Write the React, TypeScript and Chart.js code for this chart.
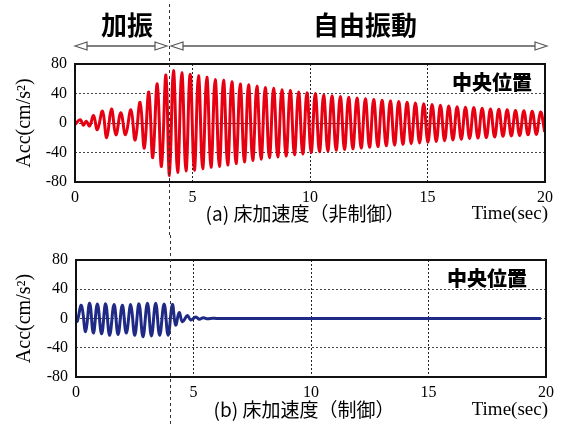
import React, { useEffect, useRef } from "react";
import { Chart, registerables } from "chart.js";

Chart.register(...registerables);

// ---- axis definitions ----
const X_MIN = 0;
const X_MAX = 20;
const X_STEP = 5;
const Y_MIN = -80;
const Y_MAX = 80;
const Y_STEP = 40;
const MARK_TIME = 3.98; // boundary between 加振 and 自由振動 (sec)

// ---- (a) uncontrolled: forced part (peak times / peak values) ----
const uncontrolledForcedTime = [
  0, 0.22, 0.36, 0.48, 0.62, 0.79, 0.95, 1.17, 1.35, 1.55, 1.74, 1.95, 2.15,
  2.38, 2.56, 2.77, 2.95, 3.14, 3.31, 3.5, 3.68, 3.87, 4.02,
];
const uncontrolledForcedAcc = [
  -2, 4.5, -3, 2.5, -4, 10, -9, 16, -20, 19, -16, 14, -16, 18, -23, 28, -34, 42,
  -47, 53, -59, 65, -71,
];
// ---- (a) uncontrolled: free vibration, peaks sampled every half period ----
const uncontrolledFreeStart = 4.19;
const uncontrolledFreeHalfPeriod = 0.1775;
const uncontrolledFreeAcc = [
  71, -67, 68, -65, 66, -64, 64, -62, 62, -60,
  59, -59, 58, -57, 56, -55, 53, -53, 52, -51,
  50, -49, 48, -47, 47, -46, 45, -45, 44, -43,
  42, -42, 41, -40, 40, -39, 38, -38, 37, -37,
  36, -36, 35, -35, 34, -34, 33, -33, 32, -32,
  31, -31, 30, -30, 29, -29, 28, -28, 27, -27,
  26, -26, 25, -25, 24, -24, 23, -23, 22, -22,
  21.5, -21, 21, -20.5, 20, -20, 19, -19, 18.5, -18,
  18, -17.5, 17, -17, 16.5, -16, 16, -15.5, 15, -12,
];

// ---- (b) controlled ----
const controlledTime = [
  0, 0.05, 0.23, 0.41, 0.58, 0.74, 0.91, 1.09, 1.26, 1.43, 1.62, 1.79, 1.97,
  2.14, 2.33, 2.5, 2.68, 2.85, 3.04, 3.21, 3.39, 3.56, 3.75, 3.92, 4.1, 4.24,
  4.39, 4.53, 4.74, 4.88, 5.1, 5.24, 5.42, 5.6, 5.8, 6.0, 19.78,
];
const controlledAcc = [
  -1, -4, 18, -18, 21, -20, 20, -21, 20, -23, 19, -22, 18, -20, 19, -23, 20,
  -25, 21, -24, 21, -23, 20, -23, 19, -9, 8, -4.5, 4, -2, 2, -1, 1, -0.5, 0.5,
  0, 0,
];

// ---- texts ----
const Y_TITLE = "Acc(cm/s²)";
const X_TITLE = "Time(sec)";
const LOCATION_LABEL = "中央位置";
const CAPTION_A = "(a) 床加速度（非制御）";
const CAPTION_B = "(b) 床加速度（制御）";
const PHASE_FORCED = "加振";
const PHASE_FREE = "自由振動";

const RED = "#e60012";
const BLUE = "#1f2a86";
const SERIF = '"Liberation Serif", "Times New Roman", serif';
const CJK = '"Noto Sans CJK JP", "Noto Sans", sans-serif';

const uncontrolledPoints = [
  ...uncontrolledForcedTime.map((t, i) => ({ x: t, y: uncontrolledForcedAcc[i] })),
  ...uncontrolledFreeAcc.map((v, i) => ({
    x: uncontrolledFreeStart + i * uncontrolledFreeHalfPeriod,
    y: v,
  })),
];
const controlledPoints = controlledTime.map((t, i) => ({ x: t, y: controlledAcc[i] }));

type TextItem = { text: string; x: number; y: number; font: string; align?: CanvasTextAlign };
type Arrow = { x1: number; x2: number; y: number };

const framePlugin = {
  id: "frame",
  afterDatasetsDraw(chart: any) {
    const { ctx, chartArea } = chart;
    const { left, top, right, bottom } = chartArea;
    ctx.save();
    ctx.strokeStyle = "#111";
    ctx.lineWidth = 2;
    ctx.strokeRect(left, top, right - left, bottom - top);
    ctx.restore();
  },
};

function drawHead(ctx: CanvasRenderingContext2D, tipX: number, y: number, dir: number) {
  const len = 12;
  const half = 4;
  ctx.beginPath();
  ctx.moveTo(tipX, y);
  ctx.lineTo(tipX - dir * len, y - half);
  ctx.lineTo(tipX - dir * len, y + half);
  ctx.closePath();
  ctx.fillStyle = "#fff";
  ctx.fill();
  ctx.stroke();
}

function makeDecoPlugin(texts: TextItem[], arrows: Arrow[], dashFrom: number, dashTo: number) {
  return {
    id: "deco",
    afterDraw(chart: any) {
      const ctx: CanvasRenderingContext2D = chart.ctx;
      const xs = chart.scales.x;
      ctx.save();
      // boundary dashed line
      const mx = Math.round(xs.getPixelForValue(MARK_TIME)) + 0.5;
      ctx.strokeStyle = "#333";
      ctx.lineWidth = 1;
      ctx.setLineDash([3, 3]);
      ctx.beginPath();
      ctx.moveTo(mx, dashFrom);
      ctx.lineTo(mx, dashTo);
      ctx.stroke();
      ctx.setLineDash([]);
      // arrows
      ctx.strokeStyle = "#555";
      ctx.lineWidth = 1.5;
      arrows.forEach((a) => {
        ctx.beginPath();
        ctx.moveTo(a.x1 + 10, a.y);
        ctx.lineTo(a.x2 - 10, a.y);
        ctx.stroke();
        ctx.lineWidth = 1.2;
        drawHead(ctx, a.x1, a.y, -1);
        drawHead(ctx, a.x2, a.y, 1);
        ctx.lineWidth = 1.5;
      });
      // texts
      ctx.fillStyle = "#000";
      ctx.textBaseline = "middle";
      texts.forEach((t) => {
        ctx.font = t.font;
        ctx.textAlign = t.align || "center";
        ctx.fillText(t.text, t.x, t.y);
      });
      ctx.restore();
    },
  };
}

function makeConfig(
  points: { x: number; y: number }[],
  color: string,
  padTop: number,
  padRight: number,
  yWidth: number,
  xHeight: number,
  deco: any
): any {
  const tickFont = { family: SERIF, size: 16 };
  return {
    type: "line",
    data: {
      datasets: [
        {
          data: points,
          borderColor: color,
          borderWidth: 3,
          pointRadius: 0,
          tension: 0.4,
          fill: false,
        },
      ],
    },
    options: {
      responsive: false,
      animation: false,
      devicePixelRatio: 1,
      events: [],
      layout: { padding: { top: padTop, right: padRight, bottom: 0, left: 0 } },
      plugins: { legend: { display: false }, tooltip: { enabled: false } },
      scales: {
        x: {
          type: "linear",
          min: X_MIN,
          max: X_MAX,
          ticks: {
            stepSize: X_STEP,
            padding: 6,
            color: "#000",
            font: tickFont,
            maxRotation: 0,
            autoSkip: false,
          },
          grid: {
            drawTicks: false,
            lineWidth: 1,
            color: (c: any) =>
              c.tick && (c.tick.value === X_MIN || c.tick.value === X_MAX)
                ? "rgba(0,0,0,0)"
                : "#222",
          },
          border: { display: false, dash: [2, 2] },
          afterFit: (s: any) => {
            s.height = xHeight;
          },
        },
        y: {
          min: Y_MIN,
          max: Y_MAX,
          ticks: { stepSize: Y_STEP, padding: 8, color: "#000", font: tickFont },
          grid: {
            drawTicks: false,
            lineWidth: 1,
            color: (c: any) =>
              c.tick && (c.tick.value === Y_MIN || c.tick.value === Y_MAX)
                ? "rgba(0,0,0,0)"
                : "#444",
          },
          border: { display: false, dash: [2, 2] },
          title: {
            display: true,
            text: Y_TITLE,
            color: "#000",
            font: { family: SERIF, size: 20 },
            padding: { top: 13, bottom: 0 },
          },
          afterFit: (s: any) => {
            s.width = yWidth;
          },
        },
      },
    },
    plugins: [framePlugin, deco],
  };
}

const TOP_H = 235;
const BOT_H = 192;

export default function App() {
  const topRef = useRef<HTMLCanvasElement>(null);
  const botRef = useRef<HTMLCanvasElement>(null);

  useEffect(() => {
    const topDeco = makeDecoPlugin(
      [
        { text: PHASE_FORCED, x: 127, y: 25, font: `bold 26px ${CJK}` },
        { text: PHASE_FREE, x: 365, y: 25, font: `bold 26px ${CJK}` },
        { text: LOCATION_LABEL, x: 492, y: 82, font: `900 20px ${CJK}` },
        { text: CAPTION_A, x: 305, y: 214, font: `19px ${CJK}` },
        { text: X_TITLE, x: 548, y: 214, font: `19px ${SERIF}`, align: "right" },
      ],
      [
        { x1: 75, x2: 167, y: 46 },
        { x1: 171, x2: 547, y: 46 },
      ],
      4,
      TOP_H
    );
    const botDeco = makeDecoPlugin(
      [
        { text: LOCATION_LABEL, x: 487, y: 43, font: `900 20px ${CJK}` },
        { text: CAPTION_B, x: 304, y: 175, font: `19px ${CJK}` },
        { text: X_TITLE, x: 548, y: 175, font: `19px ${SERIF}`, align: "right" },
      ],
      [],
      0,
      BOT_H - 2
    );
    const c1 = new Chart(
      topRef.current as HTMLCanvasElement,
      makeConfig(uncontrolledPoints, RED, 64, 17, 75, TOP_H - 182, topDeco)
    );
    const c2 = new Chart(
      botRef.current as HTMLCanvasElement,
      makeConfig(controlledPoints, BLUE, 25, 16, 76, BOT_H - 142, botDeco)
    );
    return () => {
      c1.destroy();
      c2.destroy();
    };
  }, []);

  return (
    <div
      style={{
        position: "absolute",
        left: 0,
        top: 0,
        width: 562,
        height: 427,
        background: "#fff",
        overflow: "hidden",
      }}
    >
      <canvas
        ref={topRef}
        width={562}
        height={TOP_H}
        style={{ position: "absolute", left: 0, top: 0, width: 562, height: TOP_H }}
      />
      <canvas
        ref={botRef}
        width={562}
        height={BOT_H}
        style={{ position: "absolute", left: 0, top: TOP_H, width: 562, height: BOT_H }}
      />
    </div>
  );
}
